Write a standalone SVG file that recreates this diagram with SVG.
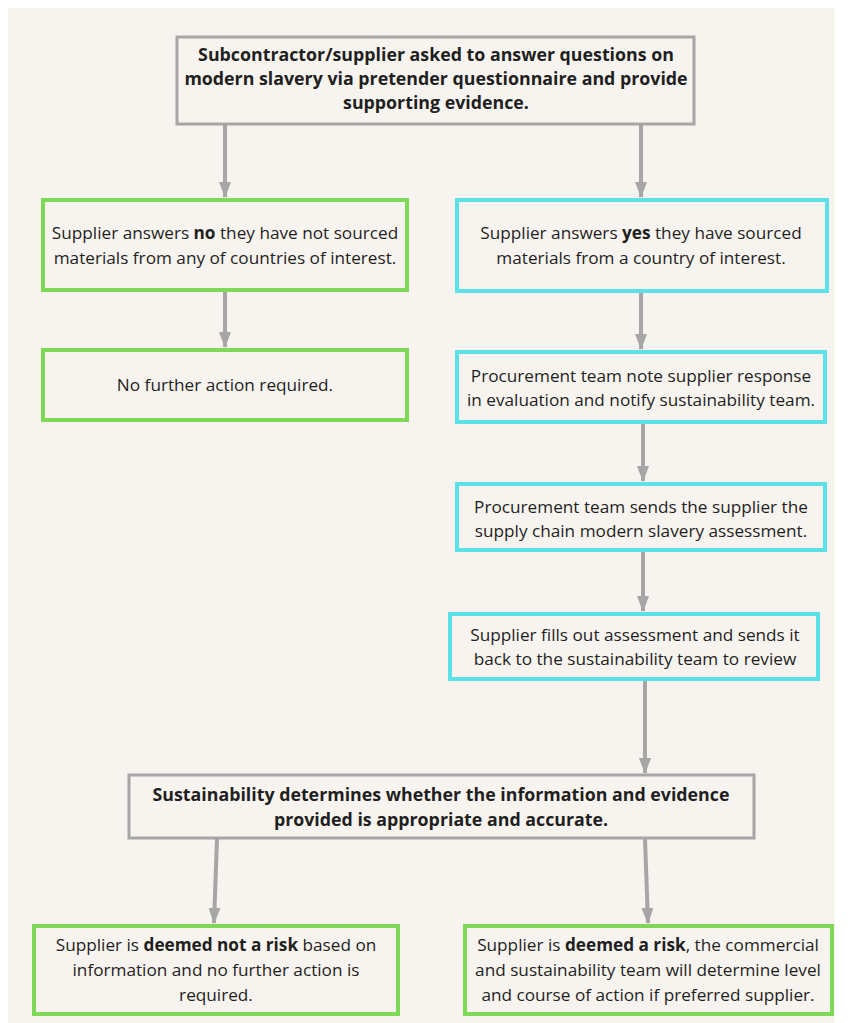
<svg xmlns="http://www.w3.org/2000/svg" width="853" height="1023" viewBox="0 0 853 1023">
<defs>
<style>
.bg{fill:#f7f3ee}
.gray{fill:#f7f3ee;stroke:#a6a6a6;stroke-width:3}
.green{fill:#f7f3ee;stroke:#7ed957;stroke-width:4}
.cyan{fill:#f7f3ee;stroke:#5ce1e6;stroke-width:4}
text{font-family:"Open Sans","Noto Sans",sans-serif;font-size:17.2px;fill:#1f1f1f;text-anchor:middle}
.b{font-weight:700;font-size:17.8px}
.r{font-weight:400}
.r .b{font-size:17.2px}
.edge{stroke:#a6a6a6;stroke-width:4;fill:none}
</style>
<marker id="ah" viewBox="0 0 16 12" refX="15" refY="6" markerWidth="16" markerHeight="12" markerUnits="userSpaceOnUse" orient="auto">
<path d="M0,0 L16,6 L0,12 Z" fill="#a6a6a6"/>
</marker>
</defs>
<rect x="0" y="0" width="853" height="1023" fill="#ffffff"/>
<rect class="bg" x="8" y="8" width="827" height="1015"/>
<g id="connectors">
<line class="edge" x1="225" y1="125" x2="225" y2="197" marker-end="url(#ah)"/>
<line class="edge" x1="641" y1="125" x2="641" y2="197" marker-end="url(#ah)"/>
<line class="edge" x1="225" y1="292" x2="225" y2="347" marker-end="url(#ah)"/>
<line class="edge" x1="641" y1="293" x2="641" y2="349" marker-end="url(#ah)"/>
<line class="edge" x1="643" y1="424" x2="643" y2="481" marker-end="url(#ah)"/>
<line class="edge" x1="643" y1="552" x2="643" y2="611" marker-end="url(#ah)"/>
<line class="edge" x1="645" y1="681" x2="645" y2="773" marker-end="url(#ah)"/>
<line class="edge" x1="217" y1="839" x2="214" y2="923" marker-end="url(#ah)"/>
<line class="edge" x1="645" y1="839" x2="648" y2="923" marker-end="url(#ah)"/>
</g>
<g id="n_start">
<rect class="gray" x="177" y="37" width="517" height="87"/>
<text class="b" x="436" y="61">Subcontractor/supplier asked to answer questions on</text>
<text class="b" x="436" y="85">modern slavery via pretender questionnaire and provide</text>
<text class="b" x="436" y="109">supporting evidence.</text>
</g>
<g id="n_no">
<rect class="green" x="43" y="200" width="364" height="90"/>
<text class="r" x="225" y="239">Supplier answers <tspan class="b">no</tspan> they have not sourced</text>
<text class="r" x="225" y="264">materials from any of countries of interest.</text>
</g>
<g id="n_noaction">
<rect class="green" x="43" y="350" width="364" height="70"/>
<text class="r" x="225" y="391">No further action required.</text>
</g>
<g id="n_yes">
<rect class="cyan" x="457" y="200" width="370" height="91"/>
<text class="r" x="641" y="239">Supplier answers <tspan class="b">yes</tspan> they have sourced</text>
<text class="r" x="641" y="264">materials from a country of interest.</text>
</g>
<g id="n_note">
<rect class="cyan" x="457" y="352" width="368" height="70"/>
<text class="r" x="641" y="382">Procurement team note supplier response</text>
<text class="r" x="641" y="406">in evaluation and notify sustainability team.</text>
</g>
<g id="n_send">
<rect class="cyan" x="457" y="484" width="368" height="66"/>
<text class="r" x="641" y="513">Procurement team sends the supplier the</text>
<text class="r" x="641" y="537">supply chain modern slavery assessment.</text>
</g>
<g id="n_fill">
<rect class="cyan" x="450" y="614" width="368" height="65"/>
<text class="r" x="635" y="641">Supplier fills out assessment and sends it</text>
<text class="r" x="635" y="665">back to the sustainability team to review</text>
</g>
<g id="n_determine">
<rect class="gray" x="129" y="775" width="625" height="63"/>
<text class="b" x="441" y="801">Sustainability determines whether the information and evidence</text>
<text class="b" x="441" y="826">provided is appropriate and accurate.</text>
</g>
<g id="n_norisk">
<rect class="green" x="34" y="926" width="364" height="88"/>
<text class="r" x="216" y="951">Supplier is <tspan class="b">deemed not a risk</tspan> based on</text>
<text class="r" x="216" y="976">information and no further action is</text>
<text class="r" x="216" y="1001">required.</text>
</g>
<g id="n_risk">
<rect class="green" x="465" y="926" width="367" height="88"/>
<text class="r" x="648" y="951">Supplier is <tspan class="b">deemed a risk</tspan>, the commercial</text>
<text class="r" x="648" y="976">and sustainability team will determine level</text>
<text class="r" x="648" y="1001">and course of action if preferred supplier.</text>
</g>
</svg>
